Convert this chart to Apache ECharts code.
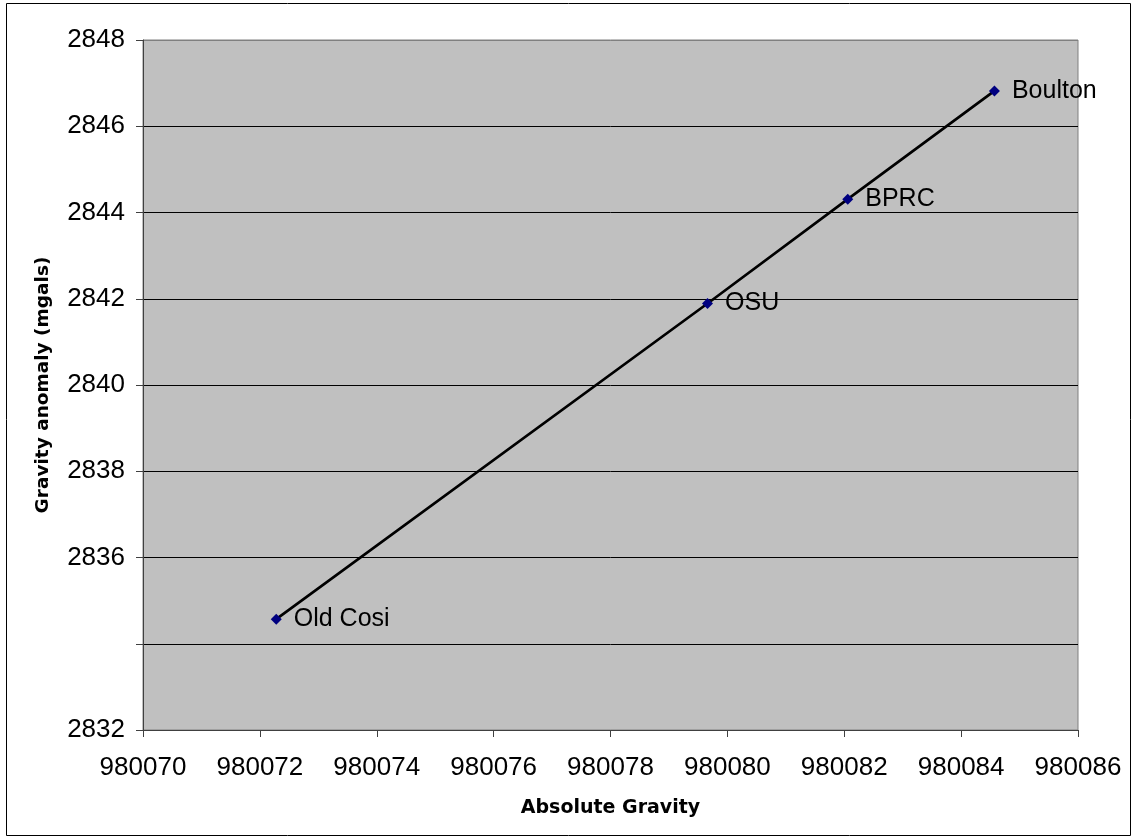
<!DOCTYPE html>
<html><head><meta charset="utf-8">
<script src="https://cdn.jsdelivr.net/npm/echarts@6/dist/echarts.min.js"></script>
<style>html,body{margin:0;padding:0;background:#fff}#c{width:1133px;height:839px}</style>
</head><body><div id="c"></div>
<script>
const stations = ['Old Cosi', 'OSU', 'BPRC', 'Boulton'];
const absoluteGravity = [980072.28, 980079.66, 980082.06, 980084.57];
const gravityAnomaly = [2834.57, 2841.89, 2844.31, 2846.82];
const hiddenYLabels = [2834];
const xTitle = 'Absolute Gravity';
const yTitle = 'Gravity anomaly (mgals)';

const font = 'Liberation Sans, Arial, sans-serif';
const titleFont = 'DejaVu Sans, sans-serif';
const points = stations.map((s, i) => ({ value: [absoluteGravity[i], gravityAnomaly[i]], name: s }));
const chart = echarts.init(document.getElementById('c'));
chart.setOption({
  animation: false,
  backgroundColor: '#fff',
  graphic: [{ type: 'rect', shape: { x: 6.5, y: 3.5, width: 1124, height: 832 }, style: { fill: 'none', stroke: '#000', lineWidth: 1 }, silent: true }],
  grid: { left: 143, top: 40, right: 55, bottom: 109, show: true, backgroundColor: '#C0C0C0', borderColor: '#808080', borderWidth: 1 },
  xAxis: {
    type: 'value', min: 980070, max: 980086, interval: 2,
    name: xTitle, nameLocation: 'middle', nameGap: 69,
    nameTextStyle: { fontFamily: titleFont, fontWeight: 'bold', fontSize: 19, color: '#000' },
    axisLine: { show: true, lineStyle: { color: '#404040', width: 1 } },
    axisTick: { show: true, length: 7, inside: false, lineStyle: { color: '#404040' } },
    axisLabel: { fontFamily: font, fontSize: 26, color: '#000', margin: 25, formatter: v => String(v) },
    splitLine: { show: false }
  },
  yAxis: {
    type: 'value', min: 2832, max: 2848, interval: 2,
    name: yTitle, nameLocation: 'middle', nameGap: 90, nameRotate: 90,
    nameTextStyle: { fontFamily: titleFont, fontWeight: 'bold', fontSize: 18.5, color: '#000' },
    axisLine: { show: true, lineStyle: { color: '#404040', width: 1 } },
    axisTick: { show: true, length: 7, inside: false, lineStyle: { color: '#404040' } },
    axisLabel: { fontFamily: font, fontSize: 26, color: '#000', margin: 18, formatter: v => hiddenYLabels.includes(v) ? '' : String(v) },
    splitLine: { show: true, lineStyle: { color: ['#000','#000','#000','#000','#000','#000','#000','#000','#808080'], width: 1 } }
  },
  series: [{
    type: 'line', data: points,
    symbol: 'diamond', symbolSize: 11,
    itemStyle: { color: '#000080' },
    lineStyle: { color: '#000', width: 2.7 },
    label: { show: true, position: 'right', distance: 12, formatter: p => p.name, fontFamily: font, fontSize: 25, color: '#000' },
    z: 3
  }]
});
</script></body></html>
